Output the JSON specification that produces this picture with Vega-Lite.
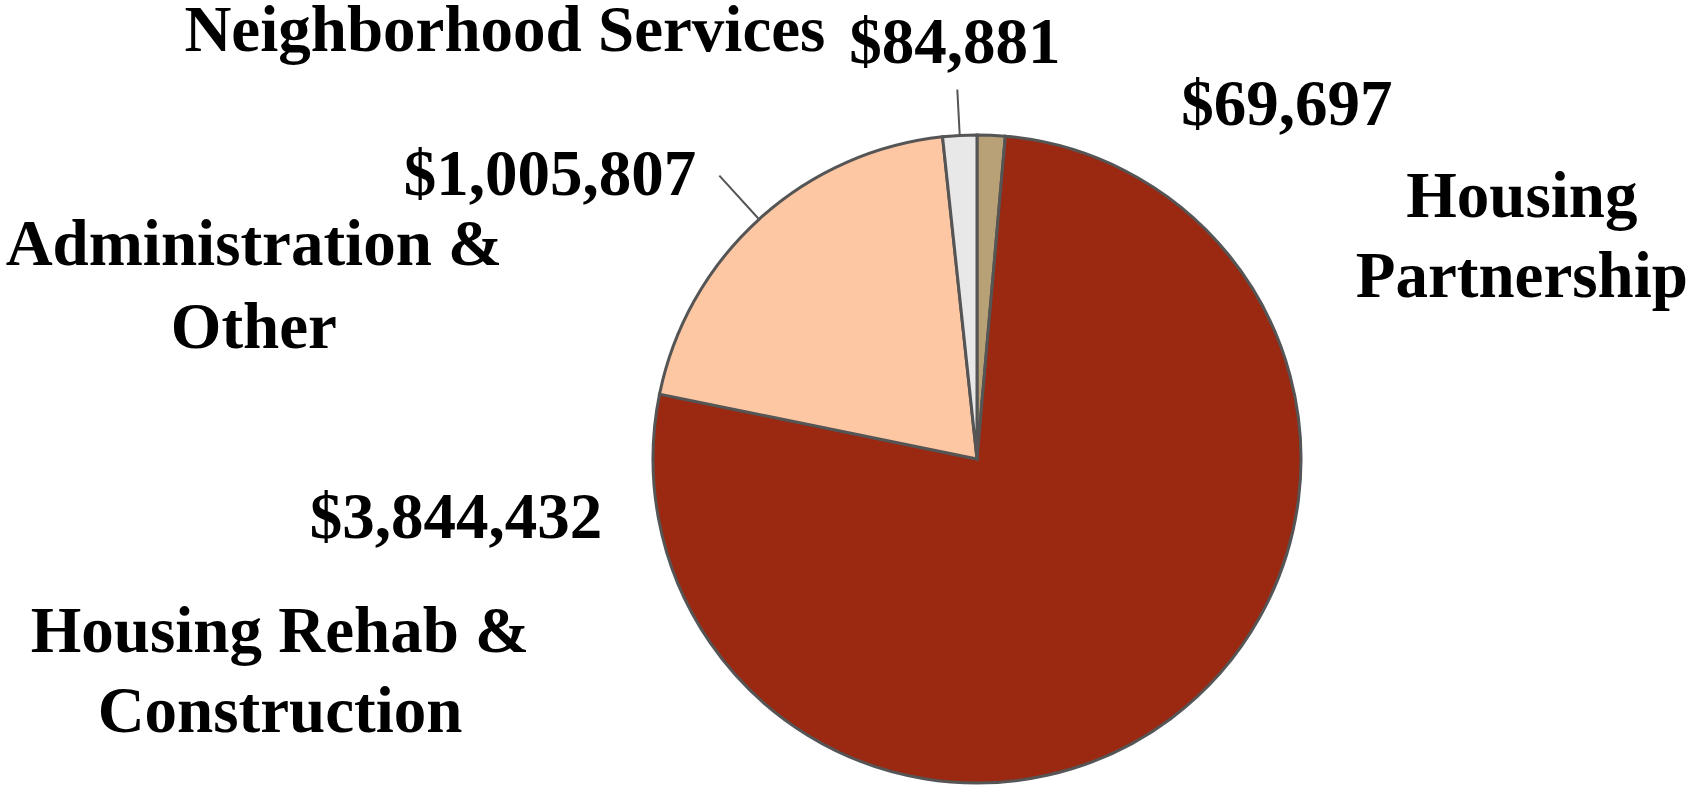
{
  "$schema": "https://vega.github.io/schema/vega-lite/v6.json",
  "autosize": "none",
  "width": 648,
  "height": 648,
  "padding": {"left": 653, "top": 135, "right": 396, "bottom": 4},
  "background": "white",
  "config": {"view": {"stroke": null}},
  "data": {
    "values": [
      {"rank": 1, "name": "Housing Partnership", "caption": "Housing\nPartnership", "value": 69697, "label": "$69,697"},
      {"rank": 2, "name": "Housing Rehab & Construction", "caption": "Housing Rehab &\nConstruction", "value": 3844432, "label": "$3,844,432"},
      {"rank": 3, "name": "Administration & Other", "caption": "Administration &\nOther", "value": 1005807, "label": "$1,005,807"},
      {"rank": 4, "name": "Neighborhood Services", "caption": "Neighborhood Services", "value": 84881, "label": "$84,881"}
    ]
  },
  "encoding": {
    "theta": {"field": "value", "type": "quantitative", "stack": true},
    "order": {"field": "rank", "type": "quantitative"}
  },
  "layer": [
    {
      "mark": {"type": "arc", "stroke": "#555555", "strokeWidth": 3},
      "encoding": {
        "color": {
          "field": "name",
          "type": "nominal",
          "legend": null,
          "scale": {
            "domain": ["Housing Partnership", "Housing Rehab & Construction", "Administration & Other", "Neighborhood Services"],
            "range": ["#B8A077", "#9B2811", "#FEC7A3", "#E8E8E8"]
          }
        }
      }
    },
    {
      "mark": {"type": "arc", "radius": 383, "radius2": 325, "padAngle": 3, "fillOpacity": 0, "fill": "white", "stroke": "#555555", "strokeWidth": 2},
      "encoding": {
        "strokeOpacity": {"condition": {"test": "datum.name === 'Administration & Other'", "value": 1}, "value": 0}
      }
    },
    {
      "mark": {"type": "arc", "radius": 370, "radius2": 325, "padAngle": 3, "fillOpacity": 0, "fill": "white", "stroke": "#555555", "strokeWidth": 2},
      "encoding": {
        "strokeOpacity": {"condition": {"test": "datum.name === 'Neighborhood Services'", "value": 1}, "value": 0}
      }
    },
    {
      "mark": {"type": "text", "radius": 340, "dx": 295, "dy": 6, "align": "center", "baseline": "alphabetic", "font": "Liberation Serif", "fontWeight": "bold", "fontSize": 65, "color": "black"},
      "encoding": {"text": {"condition": {"test": "datum.name === 'Housing Partnership'", "field": "label"}, "value": ""}}
    },
    {
      "mark": {"type": "text", "radius": 340, "dx": 530, "dy": 98, "align": "center", "baseline": "alphabetic", "lineBreak": "\n", "lineHeight": 80, "font": "Liberation Serif", "fontWeight": "bold", "fontSize": 65, "color": "black"},
      "encoding": {"text": {"condition": {"test": "datum.name === 'Housing Partnership'", "field": "caption"}, "value": ""}}
    },
    {
      "mark": {"type": "text", "radius": 396, "dx": -1, "dy": -1, "align": "center", "baseline": "alphabetic", "font": "Liberation Serif", "fontWeight": "bold", "fontSize": 65, "color": "black"},
      "encoding": {"text": {"condition": {"test": "datum.name === 'Neighborhood Services'", "field": "label"}, "value": ""}}
    },
    {
      "mark": {"type": "text", "radius": 396, "dx": -451, "dy": -13, "align": "center", "baseline": "alphabetic", "font": "Liberation Serif", "fontWeight": "bold", "fontSize": 65, "color": "black"},
      "encoding": {"text": {"condition": {"test": "datum.name === 'Neighborhood Services'", "field": "caption"}, "value": ""}}
    },
    {
      "mark": {"type": "text", "radius": 400, "dx": -158, "dy": 32, "align": "center", "baseline": "alphabetic", "font": "Liberation Serif", "fontWeight": "bold", "fontSize": 65, "color": "black"},
      "encoding": {"text": {"condition": {"test": "datum.name === 'Administration & Other'", "field": "label"}, "value": ""}}
    },
    {
      "mark": {"type": "text", "radius": 400, "dx": -454, "dy": 102, "align": "center", "baseline": "alphabetic", "lineBreak": "\n", "lineHeight": 83, "font": "Liberation Serif", "fontWeight": "bold", "fontSize": 65, "color": "black"},
      "encoding": {"text": {"condition": {"test": "datum.name === 'Administration & Other'", "field": "caption"}, "value": ""}}
    },
    {
      "mark": {"type": "text", "radius": 0, "dx": -521, "dy": 79, "align": "center", "baseline": "alphabetic", "font": "Liberation Serif", "fontWeight": "bold", "fontSize": 65, "color": "black"},
      "encoding": {"text": {"condition": {"test": "datum.name === 'Housing Rehab & Construction'", "field": "label"}, "value": ""}}
    },
    {
      "mark": {"type": "text", "radius": 0, "dx": -697, "dy": 193, "align": "center", "baseline": "alphabetic", "lineBreak": "\n", "lineHeight": 80, "font": "Liberation Serif", "fontWeight": "bold", "fontSize": 65, "color": "black"},
      "encoding": {"text": {"condition": {"test": "datum.name === 'Housing Rehab & Construction'", "field": "caption"}, "value": ""}}
    }
  ]
}
